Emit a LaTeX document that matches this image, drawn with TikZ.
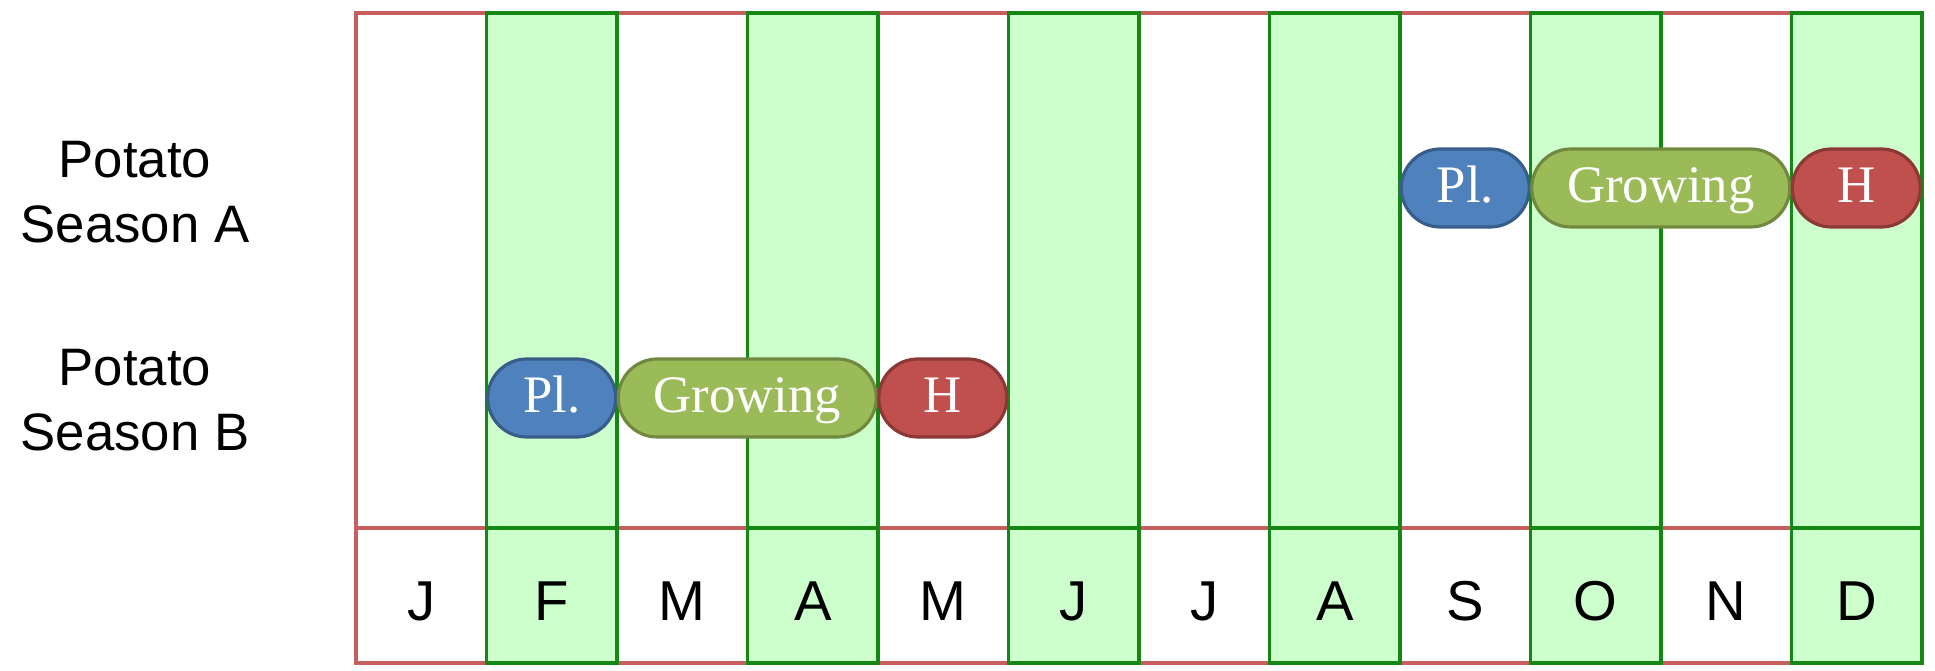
\documentclass[tikz,border=0pt]{standalone}
\usepackage{fontspec}
\setmainfont{Liberation Serif}
\setsansfont{Liberation Sans}
\usetikzlibrary{positioning}
\usetikzlibrary{shapes.misc}
\definecolor{redline}{RGB}{200,95,95}
\definecolor{greenline}{RGB}{20,135,20}
\definecolor{greenfill}{RGB}{204,255,204}
\definecolor{plblue}{RGB}{79,129,189}
\definecolor{plblueline}{RGB}{56,93,138}
\definecolor{growgreen}{RGB}{155,187,89}
\definecolor{growgreenline}{RGB}{113,137,63}
\definecolor{harvred}{RGB}{192,80,77}
\definecolor{harvredline}{RGB}{140,56,54}
\tikzstyle{redcol}=[draw=redline,line width=1.1pt]
\tikzstyle{greencol}=[draw=greenline,fill=greenfill,line width=1.1pt]
\tikzstyle{pill}=[rounded rectangle,line width=0.9pt,text=white,minimum height=0.78cm,inner sep=0pt,outer sep=0pt,text height=0.8em,text depth=0pt,font=\fontsize{15}{18}\selectfont]
\tikzstyle{plantpill}=[pill,draw=plblueline,fill=plblue,minimum width=1.28cm]
\tikzstyle{growpill}=[pill,draw=growgreenline,fill=growgreen,minimum width=2.58cm]
\tikzstyle{harvestpill}=[pill,draw=harvredline,fill=harvred,minimum width=1.28cm]
\tikzstyle{season}=[align=center,font=\sffamily\fontsize{15}{18.5}\selectfont]
\newcommand{\drawmonth}[3]{
\pgfmathsetmacro{\xl}{3.56+1.305*(#1-1)}
\pgfmathsetmacro{\xr}{\xl+1.305}
\draw[#3] (\xl,0.07) rectangle (\xr,1.42);
\draw[#3] (\xl,1.42) rectangle (\xr,6.57);
\node[font=\sffamily\fontsize{16}{19}\selectfont] (m#1) at ({(\xl+\xr)/2},0.69) {#2};
}

\begin{document}
\begin{tikzpicture}
	\useasboundingbox (0,0) rectangle (19.35,6.7);
	% month columns, green ones on top
	\foreach \i/\m in {1/J,3/M,5/M,7/J,9/S,11/N} {\drawmonth{\i}{\m}{redcol}}
	\foreach \i/\m in {2/F,4/A,6/J,8/A,10/O,12/D} {\drawmonth{\i}{\m}{greencol}}

	\node[season] (seasonA) at (1.35,4.78) {Potato\\Season A};
	\node[season] (seasonB) at (1.35,2.70) {Potato\\Season B};

	\node[plantpill] (aPl) at (14.6525,4.82) {Pl.};
	\node[growpill,right=0.025cm of aPl] (aGrow) {Growing};
	\node[harvestpill,right=0.025cm of aGrow] (aH) {H};

	\node[plantpill] (bPl) at (5.5175,2.72) {Pl.};
	\node[growpill,right=0.025cm of bPl] (bGrow) {Growing};
	\node[harvestpill,right=0.025cm of bGrow] (bH) {H};
\end{tikzpicture}
\end{document}
